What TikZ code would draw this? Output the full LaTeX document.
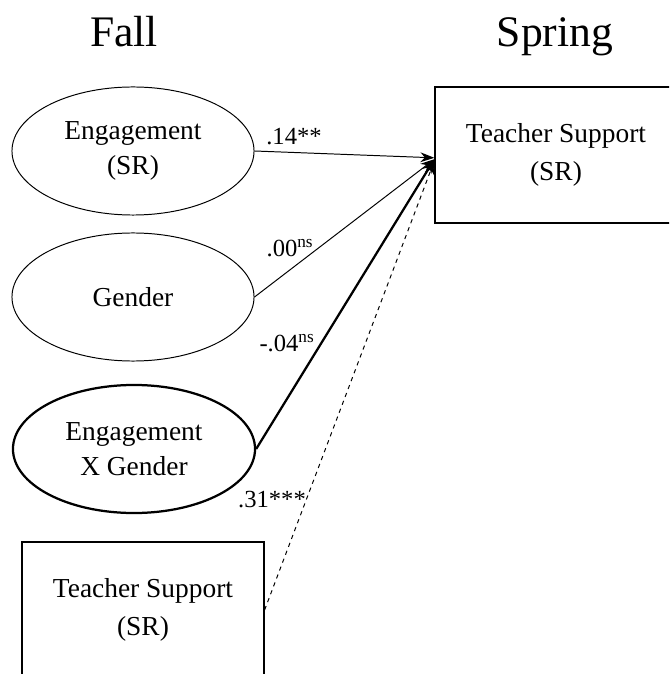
\documentclass[tikz,border=0pt]{standalone}
\usepackage{fontspec}
\setmainfont{Liberation Serif}
\usepackage{tikz}
\usetikzlibrary{arrows.meta, shapes.geometric, positioning}

\tikzset{
  latent/.style={draw, ellipse, line width=0.7pt, inner sep=0pt,
    minimum width=6.05cm, minimum height=3.2cm, align=center,
    font=\fontsize{19.5}{25}\selectfont},
  observed/.style={draw, rectangle, line width=0.8pt, inner sep=0pt,
    minimum width=6.05cm, minimum height=3.4cm, align=center,
    font=\fontsize{19.5}{26.5}\selectfont},
  coef/.style={inner sep=0pt, font=\fontsize{17.5}{20}\selectfont},
  wave/.style={inner sep=0pt, anchor=base, font=\fontsize{31}{36}\selectfont},
  path/.style={-{Stealth[length=10pt,width=7pt]}, line width=0.7pt}
}

\begin{document}
\begin{tikzpicture}[x=0.025cm, y=-0.025cm]
  \useasboundingbox (0,0) rectangle (669,674);
  \clip (0,0) rectangle (669,674);

  \node (fall)   [wave] at (124,47) {Fall};
  \node (spring) [wave] at (555,47) {Spring};

  \node (eng)  [latent] at (133,151) {Engagement\\(SR)};
  \node (gen)  [latent] at (133,297) {Gender};
  \node (int)  [latent, line width=1.6pt] at (134,449) {Engagement\\X Gender};
  \node (tsF)  [observed] at (143,610) {Teacher Support\\(SR)};
  \node (tsS)  [observed] at (556,155) {Teacher Support\\(SR)};

  \node (b14) [coef] at (294,137) {.14**};
  \node (b00) [coef] at (290,248) {.00\textsuperscript{ns}};
  \node (b04) [coef] at (287,343) {-.04\textsuperscript{ns}};
  \node (b31) [coef] at (272,500) {.31***};

  \path[path] (eng.east) edge ([yshift=-2pt]tsS.west)
              (gen.east) edge ([yshift=-3pt]tsS.west);
  \path[path, line width=1.6pt] (int.east) edge ([yshift=-3pt]tsS.west);
  \path[path, dashed] (tsF.east) edge ([yshift=-4pt]tsS.west);
\end{tikzpicture}
\end{document}
